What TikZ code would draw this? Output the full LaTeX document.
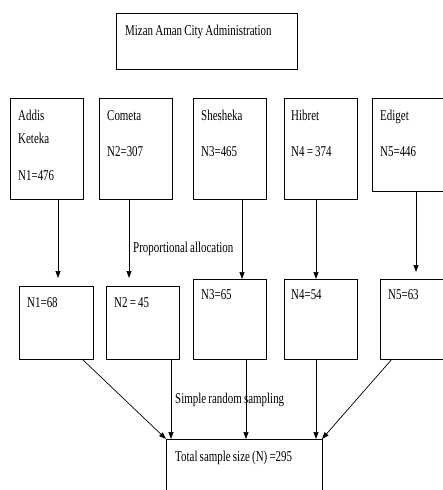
\documentclass[tikz,border=0pt]{standalone}
\usepackage{fontspec}
\setmainfont{Liberation Serif}[FakeStretch=0.73,WordSpace=0.8]
\usetikzlibrary{arrows.meta}
\begin{document}
\begin{tikzpicture}[x=1pt,y=-1pt,
  box/.style={draw,line width=0.8pt,rectangle,anchor=north west,inner sep=0pt,outer sep=0pt},
  txt/.style={anchor=base west,inner sep=0pt,font=\fontsize{15}{17}\selectfont},
  arr/.style={line width=0.7pt,-{Triangle[length=7pt,width=5pt]}}]
\clip (0,0) rectangle (443,490);
\useasboundingbox (0,0) rectangle (443,490);
% boxes
\node[box,minimum width=181pt,minimum height=56pt] (top) at (116,13) {};
\node[box,minimum width=73pt,minimum height=101pt] (b1) at (10,98) {};
\node[box,minimum width=73pt,minimum height=101pt] (b2) at (99,98) {};
\node[box,minimum width=73pt,minimum height=101pt] (b3) at (193,98) {};
\node[box,minimum width=73pt,minimum height=101pt] (b4) at (284,98) {};
\node[box,minimum width=90pt,minimum height=93pt] (b5) at (372,98) {};
\node[box,minimum width=74pt,minimum height=73pt] (c1) at (19,286) {};
\node[box,minimum width=73pt,minimum height=73pt] (c2) at (106,286) {};
\node[box,minimum width=73pt,minimum height=80pt] (c3) at (193,279) {};
\node[box,minimum width=73pt,minimum height=80pt] (c4) at (284,279) {};
\node[box,minimum width=80pt,minimum height=80pt] (c5) at (380,279) {};
\node[box,minimum width=156pt,minimum height=80pt] (tot) at (166,439) {};
% texts
\node[txt] (ttop) at (125,35.5) {Mizan Aman City Administration};
\node[txt] (t1a) at (18,120.5) {Addis};
\node[txt] (t1b) at (18,143) {Keteka};
\node[txt] (t1c) at (18,180) {N1=476};
\node[txt] (t2a) at (107,120.5) {Cometa};
\node[txt] (t2b) at (107,156.5) {N2=307};
\node[txt] (t3a) at (201,120.5) {Shesheka};
\node[txt] (t3b) at (201,156.5) {N3=465};
\node[txt] (t4a) at (291,120.5) {Hibret};
\node[txt] (t4b) at (291,156.5) {N4 = 374};
\node[txt] (t5a) at (380,120.5) {Ediget};
\node[txt] (t5b) at (380,156.5) {N5=446};
\node[txt] (s1) at (27,307) {N1=68};
\node[txt] (s2) at (114,307) {N2 = 45};
\node[txt] (s3) at (201,299.5) {N3=65};
\node[txt] (s4) at (291,299.5) {N4=54};
\node[txt] (s5) at (388,299.5) {N5=63};
\node[txt] (prop) at (133,252) {Proportional allocation};
\node[txt] (srs) at (175,403) {Simple random sampling};
\node[txt] (ttot) at (175,461) {Total sample size (N) =295};
% arrows row1 -> row2
\draw[arr,shorten >=8pt] ([xshift=48pt]b1.south west) -- ([xshift=48pt]b1.south west |- c1.north);
\draw[arr,shorten >=8pt] ([xshift=30pt]b2.south west) -- ([xshift=30pt]b2.south west |- c2.north);
\draw[arr] ([xshift=49pt]b3.south west) -- ([xshift=49pt]b3.south west |- c3.north);
\draw[arr] ([xshift=32pt]b4.south west) -- ([xshift=32pt]b4.south west |- c4.north);
\draw[arr,shorten >=7pt] ([xshift=44pt]b5.south west) -- ([xshift=44pt]b5.south west |- c5.north);
% arrows row2 -> total
\draw[arr] ([xshift=63pt]c1.south west) -- (tot.north west);
\draw[arr] ([xshift=65pt]c2.south west) -- ([xshift=65pt]c2.south west |- tot.north);
\draw[arr] ([xshift=53pt]c3.south west) -- ([xshift=53pt]c3.south west |- tot.north);
\draw[arr] ([xshift=32pt]c4.south west) -- ([xshift=32pt]c4.south west |- tot.north);
\draw[arr] ([xshift=12pt]c5.south west) -- (tot.north east);
\end{tikzpicture}
\end{document}
